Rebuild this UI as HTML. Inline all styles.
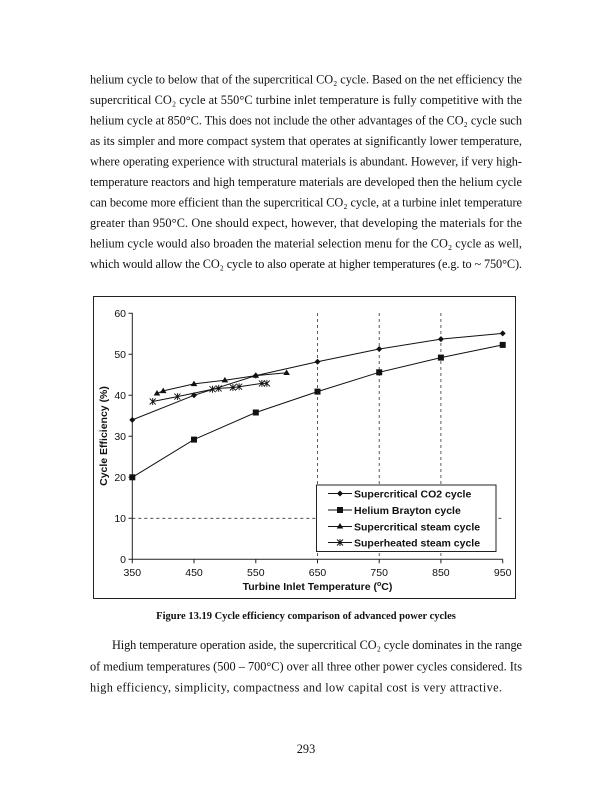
<!DOCTYPE html>
<html><head><meta charset="utf-8"><style>
body{margin:0;background:#fff}
svg{display:block}
.t{font-family:"Liberation Serif",serif;font-size:12.3px;fill:#111}
.a{font-family:"Liberation Sans",sans-serif;font-size:10.5px;fill:#111}
.b{font-family:"Liberation Sans",sans-serif;font-size:10.5px;font-weight:bold;fill:#111}
</style></head><body>
<svg width="612" height="792" viewBox="0 0 612 792" xmlns="http://www.w3.org/2000/svg">
<g class="t">
<text x="90" y="83.5" textLength="432" lengthAdjust="spacing">helium cycle to below that of the supercritical CO₂ cycle.  Based on the net efficiency the</text>
<text x="90" y="104" textLength="432" lengthAdjust="spacing">supercritical CO₂ cycle at 550°C turbine inlet temperature is fully competitive with the</text>
<text x="90" y="124.5" textLength="432" lengthAdjust="spacing">helium cycle at 850°C.  This does not include the other advantages of the CO₂ cycle such</text>
<text x="90" y="145" textLength="432" lengthAdjust="spacing">as its simpler and more compact system that operates at significantly lower temperature,</text>
<text x="90" y="165.5" textLength="432" lengthAdjust="spacing">where operating experience with structural materials is abundant.  However, if very high-</text>
<text x="90" y="186" textLength="432" lengthAdjust="spacing">temperature reactors and high temperature materials are developed then the helium cycle</text>
<text x="90" y="206.5" textLength="432" lengthAdjust="spacing">can become more efficient than the supercritical CO₂ cycle, at a turbine inlet temperature</text>
<text x="90" y="227" textLength="432" lengthAdjust="spacing">greater than 950°C.  One should expect, however, that developing the materials for the</text>
<text x="90" y="247.5" textLength="432" lengthAdjust="spacing">helium cycle would also broaden the material selection menu for the CO₂ cycle as well,</text>
<text x="90" y="268" textLength="432" lengthAdjust="spacing">which would allow the CO₂ cycle to also operate at higher temperatures (e.g. to ~ 750°C).</text>
</g>
<rect x="93.5" y="296.5" width="422" height="302" fill="none" stroke="#222" stroke-width="1"/>
<g stroke="#333" stroke-width="0.8" stroke-dasharray="3,3">
<line x1="317.5" y1="313" x2="317.5" y2="559"/>
<line x1="379.2" y1="313" x2="379.2" y2="559"/>
<line x1="440.9" y1="313" x2="440.9" y2="559"/>
<line x1="132.3" y1="518.3" x2="502.7" y2="518.3"/>
</g>
<g stroke="#222" stroke-width="1" fill="none">
<line x1="132.3" y1="313" x2="132.3" y2="559.3"/>
<line x1="132.3" y1="559.3" x2="502.7" y2="559.3"/>
<path d="M128.5 313.3h4M128.5 354.3h4M128.5 395.3h4M128.5 436.3h4M128.5 477.3h4M128.5 518.3h4M128.5 559.3h4"/>
<path d="M132.3 559.3v4M194 559.3v4M255.8 559.3v4M317.5 559.3v4M379.2 559.3v4M440.9 559.3v4M502.7 559.3v4"/>
</g>
<g class="a" text-anchor="end">
<text x="126" y="317">60</text><text x="126" y="358">50</text><text x="126" y="399">40</text><text x="126" y="440">30</text><text x="126" y="481">20</text><text x="126" y="522">10</text><text x="126" y="563">0</text>
</g>
<g class="a" text-anchor="middle">
<text x="132.3" y="576">350</text><text x="194" y="576">450</text><text x="255.8" y="576">550</text><text x="317.5" y="576">650</text><text x="379.2" y="576">750</text><text x="440.9" y="576">850</text><text x="502.7" y="576">950</text>
</g>
<text class="b" x="317.5" y="590" text-anchor="middle">Turbine Inlet Temperature (<tspan font-size="7" dy="-4">o</tspan><tspan dy="4">C)</tspan></text>
<text class="b" transform="translate(107,436) rotate(-90)" text-anchor="middle">Cycle Efficiency (%)</text>
<g fill="none" stroke="#111" stroke-width="1">
<polyline points="132.3,419.9 194,395.3 255.8,375.6 317.5,361.7 379.2,349 440.9,339.1 502.7,333.4"/>
<polyline points="132.3,477.3 194,439.6 255.8,412.5 317.5,391.6 379.2,372.3 440.9,357.6 502.7,344.9"/>
<polyline points="157,393.3 163.2,390.9 194,383.9 224.9,380.2 255.8,375.6 286.6,372.8"/>
<polyline points="152.7,401.5 177.4,396.6 212.5,389.2 218.7,388.4 232.9,387.5 239.1,386.7 261.9,383.4 266.9,383.4"/>
</g>
<g fill="#111">
<path d="M132.3 416.9l3 3-3 3-3-3zM194 392.3l3 3-3 3-3-3zM255.8 372.6l3 3-3 3-3-3zM317.5 358.7l3 3-3 3-3-3zM379.2 346l3 3-3 3-3-3zM440.9 336.1l3 3-3 3-3-3zM502.7 330.4l3 3-3 3-3-3z"/>
<rect x="129.3" y="474.3" width="6" height="6"/><rect x="191" y="436.6" width="6" height="6"/><rect x="252.8" y="409.5" width="6" height="6"/><rect x="314.5" y="388.6" width="6" height="6"/><rect x="376.2" y="369.3" width="6" height="6"/><rect x="437.9" y="354.6" width="6" height="6"/><rect x="499.7" y="341.9" width="6" height="6"/>
<path d="M157 390l3.3 5.5h-6.6zM163.2 387.6l3.3 5.5h-6.6zM194 380.6l3.3 5.5h-6.6zM224.9 376.9l3.3 5.5h-6.6zM255.8 372.3l3.3 5.5h-6.6zM286.6 369.5l3.3 5.5h-6.6z"/>
</g>
<g stroke="#111" stroke-width="0.9">
<path d="M-3 -3L3 3M-3 3L3 -3M0 -3.5V3.5" transform="translate(152.7,401.5)"/>
<path d="M-3 -3L3 3M-3 3L3 -3M0 -3.5V3.5" transform="translate(177.4,396.6)"/>
<path d="M-3 -3L3 3M-3 3L3 -3M0 -3.5V3.5" transform="translate(212.5,389.2)"/>
<path d="M-3 -3L3 3M-3 3L3 -3M0 -3.5V3.5" transform="translate(218.7,388.4)"/>
<path d="M-3 -3L3 3M-3 3L3 -3M0 -3.5V3.5" transform="translate(232.9,387.5)"/>
<path d="M-3 -3L3 3M-3 3L3 -3M0 -3.5V3.5" transform="translate(239.1,386.7)"/>
<path d="M-3 -3L3 3M-3 3L3 -3M0 -3.5V3.5" transform="translate(261.9,383.4)"/>
<path d="M-3 -3L3 3M-3 3L3 -3M0 -3.5V3.5" transform="translate(266.9,383.4)"/>
</g>
<rect x="316.5" y="485" width="179.5" height="66.5" fill="#fff" stroke="#222" stroke-width="1"/>
<g stroke="#111" stroke-width="1">
<line x1="328" y1="493.5" x2="352" y2="493.5"/><line x1="328" y1="510" x2="352" y2="510"/><line x1="328" y1="526.5" x2="352" y2="526.5"/><line x1="328" y1="542.5" x2="352" y2="542.5"/>
<path d="M-3 -3L3 3M-3 3L3 -3M0 -3.5V3.5" transform="translate(340,542.5)"/>
</g>
<g fill="#111">
<path d="M340 490.5l3 3-3 3-3-3z"/><rect x="337" y="507" width="6" height="6"/><path d="M340 523l3.3 5.5h-6.6z"/>
</g>
<g class="b">
<text x="354" y="497.5">Supercritical CO2 cycle</text>
<text x="354" y="514">Helium Brayton cycle</text>
<text x="354" y="530.5">Supercritical steam cycle</text>
<text x="354" y="546.5">Superheated steam cycle</text>
</g>
<text x="306" y="619" text-anchor="middle" style="font-family:'Liberation Serif',serif;font-weight:bold;font-size:10.5px;fill:#111">Figure 13.19 Cycle efficiency comparison of advanced power cycles</text>
<g class="t">
<text x="112" y="649" textLength="410" lengthAdjust="spacing">High temperature operation aside, the supercritical CO₂ cycle dominates in the range</text>
<text x="90" y="670.5" textLength="432" lengthAdjust="spacing">of medium temperatures (500 – 700°C) over all three other power cycles considered. Its</text>
<text x="90" y="691.5" textLength="412" lengthAdjust="spacing">high efficiency, simplicity, compactness and low capital cost is very attractive.</text>
</g>
<text class="t" x="306" y="753" text-anchor="middle" font-size="10">293</text>
</svg>
</body></html>
